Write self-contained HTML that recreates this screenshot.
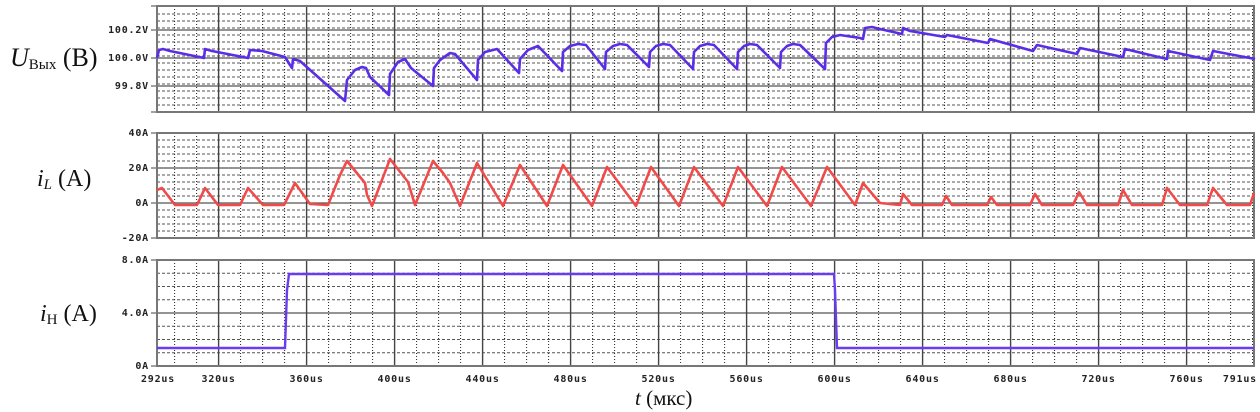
<!DOCTYPE html>
<html><head><meta charset="utf-8"><style>
html,body{margin:0;padding:0;background:#fff;width:1260px;height:412px;overflow:hidden}
svg{display:block}
.tk{font-family:"DejaVu Sans Mono","Liberation Mono",monospace;font-weight:bold;font-size:10px;letter-spacing:0.8px;fill:#222}
.lb{font-family:"Liberation Serif",serif;fill:#111}
</style></head><body>
<svg id="s" width="1260" height="412" viewBox="0 0 1260 412" xmlns="http://www.w3.org/2000/svg">
<g id="grid"></g>
<polyline fill="none" stroke="#5a2ee6" stroke-width="2.6" stroke-linejoin="round" points="157,58 159,50 163,49 170,51 204,58 205,49 212,51 248,58 250,50 262,51 285,57 290,65 292,68 293,59 300,61 345,101 347,80 355,70 362,67 366,68 370,77 389,95 390,74 398,62 405,59 411,68 433,86 434,68 440,60 450,53 455,54 477,80 478,60 485,52 497,49 519,73 520,59 528,50 538,46 562,71 563,52 570,46 578,44 586,45 605,69 606,52 613,46 620,44 627,45 649,67 650,52 656,46 663,44 670,45 693,69 694,52 700,46 707,44 714,45 737,69 738,52 744,46 750,44 757,45 780,68 781,52 787,46 793,44 800,45 825,69 826,43 832,37 840,35 860,38 863,39 865,28 872,27 880,29 902,34 903,28 910,31 945,37 947,35 988,43 990,39 1033,51 1037,45 1077,54 1080,48 1123,57 1125,49 1167,59 1168,51 1210,60 1213,51 1255,59"/>
<polyline fill="none" stroke="#f04a4a" stroke-width="2.6" stroke-linejoin="round" points="157,190 162,188 175,205 197,205 205,188 218,205 240,205 248,188 263,205 284,205 295,183 310,204 328,205 340,175 347,161 365,183 367,195 372,206 390,159 408,182 415,205 433,161 443,173 450,183 460,206 477,163 503,206 520,165 547,206 563,165 592,206 607,167 636,206 651,167 679,206 694,167 723,206 738,167 767,206 782,167 811,206 827,167 855,205 863,183 880,203 900,205 903,194 912,205 942,205 946,196 952,205 987,205 991,197 997,205 1030,205 1035,194 1042,205 1073,205 1079,192 1087,205 1118,205 1123,190 1132,205 1162,205 1167,188 1180,205 1207,205 1213,188 1227,205 1250,205 1254,193"/>
<polyline fill="none" stroke="#6a3cf0" stroke-width="2.4" points="157,348 285,348 287,290 289,274 834,274 835,290 837,348 1254,348"/>
<g id="txt"></g>
<text class="lb" x="10" y="66" font-size="26"><tspan font-style="italic">U</tspan><tspan font-size="15" dy="3">Вых</tspan><tspan dy="-3"> (B)</tspan></text>
<text class="lb" x="37" y="186" font-size="24"><tspan font-style="italic">i</tspan><tspan font-size="15" font-style="italic" dy="3">L</tspan><tspan dy="-3"> (A)</tspan></text>
<text class="lb" x="40" y="321" font-size="24"><tspan font-style="italic">i</tspan><tspan font-size="15" dy="3">H</tspan><tspan dy="-3"> (A)</tspan></text>
<text class="lb" x="635" y="405" font-size="21"><tspan font-style="italic">t</tspan> (мкс)</text>
</svg>
<script>
var NS="http://www.w3.org/2000/svg",g=document.getElementById('grid'),tx=document.getElementById('txt');
function el(t,a,p){var e=document.createElementNS(NS,t);for(var k in a)e.setAttribute(k,a[k]);(p||g).appendChild(e);return e;}
function X(t){return 157+(t-292)*2.2;}
var panels=[[6,112,7,[30,58,86]],[133,238,7,[168,203]],[260,366,13.25,[313]]];
panels.forEach(function(p){var t=p[0],b=p[1];
 for(var y=b-p[2];y>t+2;y-=p[2]){el('line',{x1:157,x2:1254,y1:y,y2:y,stroke:'#555','stroke-width':1,'stroke-dasharray':'3,2'});}
 for(var s=300;s<=790;s+=10){if((s-320)%40==0)continue;el('line',{x1:X(s),x2:X(s),y1:t,y2:b,stroke:'#222','stroke-width':1,'stroke-dasharray':'1,2'});}
 p[3].forEach(function(y){el('line',{x1:157,x2:1254,y1:y,y2:y,stroke:'#555','stroke-width':1.2});el('line',{x1:151,x2:157,y1:y,y2:y,stroke:'#444','stroke-width':1});});
 el('line',{x1:151,x2:157,y1:t,y2:t,stroke:'#444'});el('line',{x1:151,x2:157,y1:b,y2:b,stroke:'#444'});
 for(var s=320;s<=760;s+=40)el('line',{x1:X(s),x2:X(s),y1:t,y2:b,stroke:'#444','stroke-width':1.4});
 el('rect',{x:157,y:t,width:1097,height:b-t,fill:'none',stroke:'#777','stroke-width':2});
});
function T(x,y,s,a){var e=el('text',{x:x,y:y,'class':'tk','text-anchor':a||'end'},tx);e.textContent=s;}
T(149,33,'100.2V');T(149,61,'100.0V');T(149,89,'99.8V');
T(149,136,'40A');T(149,171,'20A');T(149,206,'0A');T(149,241,'-20A');
T(149,263,'8.0A');T(149,316,'4.0A');T(149,369,'0A');
for(var s=320;s<=760;s+=40)T(X(s),382,s+'us','middle');
T(158,382,'292us','middle');T(1257,382,'791us','end');
</script>
</body></html>
